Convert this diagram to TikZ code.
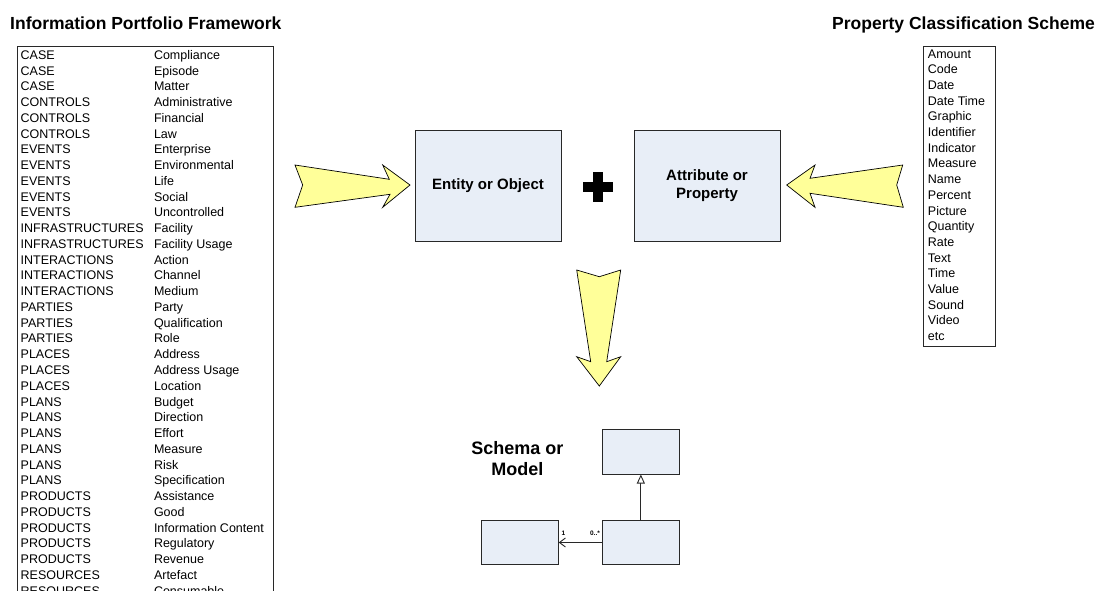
\documentclass[tikz,border=0pt]{standalone}
\usepackage{fontspec}
\setmainfont{Liberation Sans}
\usetikzlibrary{arrows.meta}
\definecolor{boxfill}{RGB}{232,238,247}
\definecolor{arrowfill}{RGB}{255,255,153}
\definecolor{lineclr}{RGB}{40,40,40}
\begin{document}
\begin{tikzpicture}[x=1pt,y=-1pt,
  title/.style={font=\fontsize{17.5}{20}\selectfont\bfseries, inner sep=0pt},
  item/.style={font=\fontsize{12.5}{15}\selectfont, inner sep=0pt, anchor=base west},
  listbox/.style={draw=lineclr, line width=0.9pt},
  bigbox/.style={draw=lineclr, line width=0.9pt, fill=boxfill, minimum width=146pt, minimum height=111pt, align=center, font=\fontsize{15}{18}\selectfont\bfseries, inner sep=0pt},
  umlbox/.style={draw=lineclr, line width=0.9pt, fill=boxfill, inner sep=0pt, minimum width=76.5pt, minimum height=44.8pt},
  fatarrow/.style={draw=black, line width=0.7pt, fill=arrowfill, line join=miter},
  mult/.style={font=\fontsize{6.5}{7}\selectfont\bfseries, inner sep=0pt},
  conn/.style={draw=lineclr, line width=0.9pt}
]
\useasboundingbox (0,0) rectangle (1102,590);
\clip (0,0) rectangle (1102,590);
\fill[white] (0,0) rectangle (1102,590);

% titles
\node[title, anchor=base west] (t1) at (10,29.3) {Information Portfolio Framework};
\node[title, anchor=base east] (t2) at (1095,29.3) {Property Classification Scheme};

% left list
\draw[listbox] (17.3,46) rectangle (273.3,640);
\foreach \a/\b [count=\i from 0] in {CASE/Compliance, CASE/Episode, CASE/Matter,
  CONTROLS/Administrative, CONTROLS/Financial, CONTROLS/Law,
  EVENTS/Enterprise, EVENTS/Environmental, EVENTS/Life, EVENTS/Social, EVENTS/Uncontrolled,
  INFRASTRUCTURES/Facility, INFRASTRUCTURES/Facility Usage,
  INTERACTIONS/Action, INTERACTIONS/Channel, INTERACTIONS/Medium,
  PARTIES/Party, PARTIES/Qualification, PARTIES/Role,
  PLACES/Address, PLACES/Address Usage, PLACES/Location,
  PLANS/Budget, PLANS/Direction, PLANS/Effort, PLANS/Measure, PLANS/Risk, PLANS/Specification,
  PRODUCTS/Assistance, PRODUCTS/Good, PRODUCTS/Information Content, PRODUCTS/Regulatory, PRODUCTS/Revenue,
  RESOURCES/Artefact, RESOURCES/Consumable}{
  \node[item] (la\i) at (20.5,{59.3+15.76*\i}) {\a};
  \node[item] (lb\i) at (153.8,{59.3+15.76*\i}) {\b};
}

% right list
\draw[listbox] (923.8,46) rectangle (995.8,346);
\foreach \a [count=\i from 0] in {Amount, Code, Date, Date Time, Graphic, Identifier, Indicator,
  Measure, Name, Percent, Picture, Quantity, Rate, Text, Time, Value, Sound, Video, etc}{
  \node[item] (r\i) at (927.7,{58.3+15.67*\i}) {\a};
}

% central boxes
\node[bigbox] (entity) at (488,186) {Entity or Object};
\node[bigbox] (attr) at (707,186) {Attribute or\\Property};

% plus sign
\fill[black] (583,181.5) rectangle (613,191.5);
\fill[black] (593,171.5) rectangle (603,201.5);

% fat arrows
\draw[fatarrow] (295,165) -- (389.3,179.3) -- (382.7,165) -- (410,185) -- (382.7,207.3)
  -- (390,194.3) -- (295,207.3) -- (302.7,185) -- cycle;
\draw[fatarrow] (902.7,165) -- (810,178.3) -- (815,165) -- (786.7,185) -- (815,207.3)
  -- (810,193.3) -- (903.3,207.3) -- (896.7,185) -- cycle;
\draw[fatarrow] (576.7,270) -- (599.3,276.7) -- (620.7,270) -- (606.7,361.7) -- (620.7,356.7)
  -- (599.3,386) -- (576.7,356.7) -- (590.7,361.7) -- cycle;

% schema
\node[font=\fontsize{18}{21.7}\selectfont\bfseries, align=center, inner sep=0pt] (schema) at (517.3,458.7) {Schema or\\Model};
\node[umlbox] (top) at (640.85,451.65) {};
\node[umlbox] (br) at (640.85,542.5) {};
\node[umlbox] (bl) at (520,542.5) {};
\draw[conn, -{Triangle[open, length=9pt, width=8pt, fill=white]}] (br.north) -- (top.south);
\draw[conn, -{Straight Barb[length=6pt, width=9pt]}] (br.west) -- (bl.east);
\node[mult] (m1) at (563.5,533.3) {1};
\node[mult] (m2) at (595,533.3) {0..*};
\end{tikzpicture}
\end{document}
